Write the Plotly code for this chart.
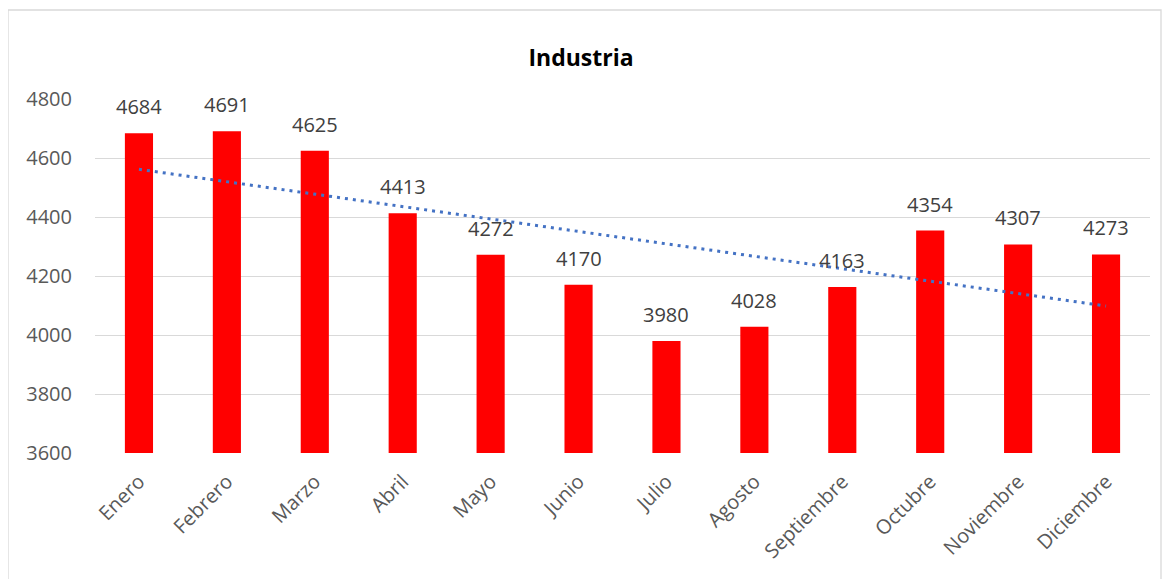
import numpy as np
import plotly.graph_objects as go

months = ["Enero", "Febrero", "Marzo", "Abril", "Mayo", "Junio", "Julio",
          "Agosto", "Septiembre", "Octubre", "Noviembre", "Diciembre"]
values = [4684, 4691, 4625, 4413, 4272, 4170, 3980, 4028, 4163, 4354, 4307, 4273]
y_ticks = [3600, 3800, 4000, 4200, 4400, 4600, 4800]

# linear trendline (least squares)
x_idx = np.arange(1, len(values) + 1)
slope, intercept = np.polyfit(x_idx, values, 1)
trend = slope * x_idx + intercept

FONT = "Open Sans, Liberation Sans, sans-serif"
W, H = 1163, 571
L, R, T, B = 87, 21, 91, 126
PW, PH = W - L - R, H - T - B

fig = go.Figure()
fig.add_trace(go.Bar(
    x=months, y=values, marker=dict(color="#FF0000", line=dict(width=0)),
    showlegend=False, hoverinfo="x+y",
))
fig.add_trace(go.Scatter(
    x=months, y=trend, mode="lines",
    line=dict(color="#4472C4", width=3, dash="3px,5px"),
    showlegend=False, hoverinfo="skip",
))

for m, v in zip(months, values):
    fig.add_annotation(x=m, y=v, text=str(v), showarrow=False,
                       yanchor="bottom", yshift=11,
                       font=dict(family=FONT, size=20, color="#404040"))

fig.update_layout(
    width=W, height=H,
    margin=dict(l=L, r=R, t=T, b=B),
    paper_bgcolor="white", plot_bgcolor="white",
    bargap=0.68,
    title=dict(text="<b>Industria</b>", x=573 / W, xanchor="center",
               xref="container",
               y=1 - 50 / H, yanchor="middle",
               font=dict(family=FONT, size=23, color="#000000")),
    font=dict(family=FONT, color="#595959"),
    xaxis=dict(tickangle=-45, tickfont=dict(size=20, color="#595959"),
               showgrid=False, showline=False, ticks="", ticklabelstandoff=12),
    yaxis=dict(range=[3600, 4800], tickvals=y_ticks,
               tickfont=dict(size=20, color="#595959"),
               showgrid=True, gridcolor="#D9D9D9", gridwidth=1.3,
               zeroline=False, showline=False, ticks="", ticklabelstandoff=22),
    shapes=[dict(type="rect", xref="paper", yref="paper",
                 x0=-L / PW, x1=1 + 11 / PW, y0=-(B + 20) / PH,
                 y1=1 + (T - 2) / PH,
                 line=dict(color="#D9D9D9", width=1.3), layer="below")],
)

fig.write_html("out.html")
